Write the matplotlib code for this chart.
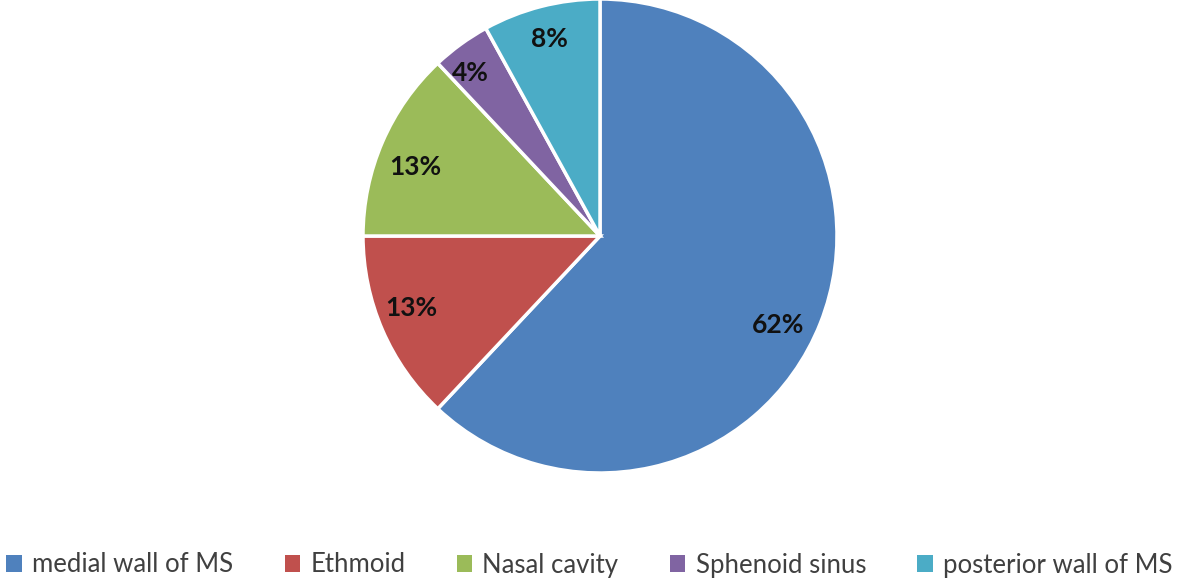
import numpy as np
import matplotlib.pyplot as plt
from matplotlib.patches import Patch

labels = ["medial wall of MS", "Ethmoid", "Nasal cavity", "Sphenoid sinus", "posterior wall of MS"]
values = [62, 13, 13, 4, 8]
pct_text = ["62%", "13%", "13%", "4%", "8%"]
colors = ["#4F81BD", "#C0504D", "#9BBB59", "#8064A2", "#4BACC6"]
# label placement (Excel "best fit"): distance from centre and angular nudge
label_dist = [0.84, 0.85, 0.83, 0.88, 0.86]
label_nudge = [-5, -2.5, 3, 2.5, 0]

W, H = 1179, 584
fig = plt.figure(figsize=(W / 100, H / 100), dpi=100)
plt.rcParams['font.family'] = ['Lato', 'DejaVu Sans']

cx, cy, r = 600, 236, 237
ax = fig.add_axes([(cx - r) / W, (H - cy - r) / H, 2 * r / W, 2 * r / H])
wedges, texts = ax.pie(values, colors=colors, startangle=90, counterclock=False,
                       wedgeprops=dict(edgecolor="white", linewidth=2.5))

for w, t, d, n in zip(wedges, pct_text, label_dist, label_nudge):
    ang = np.deg2rad((w.theta1 + w.theta2) / 2 + n)
    ax.text(d * np.cos(ang), d * np.sin(ang), t, ha="center", va="center",
            fontsize=19, fontweight="bold", color="#111111")

ax.set_xlim(-1, 1)
ax.set_ylim(-1, 1)
ax.set_aspect("equal")
ax.axis("off")

handles = [Patch(facecolor=c, edgecolor="none") for c in colors]
fig.legend(handles, labels, loc="center", bbox_to_anchor=(0.5, 1 - 565 / H), ncol=5,
           frameon=False, fontsize=18.5, handlelength=0.6, handleheight=0.6,
           handletextpad=0.4, columnspacing=2.0, labelcolor="#404040")

fig.savefig("out.png", dpi=100)
